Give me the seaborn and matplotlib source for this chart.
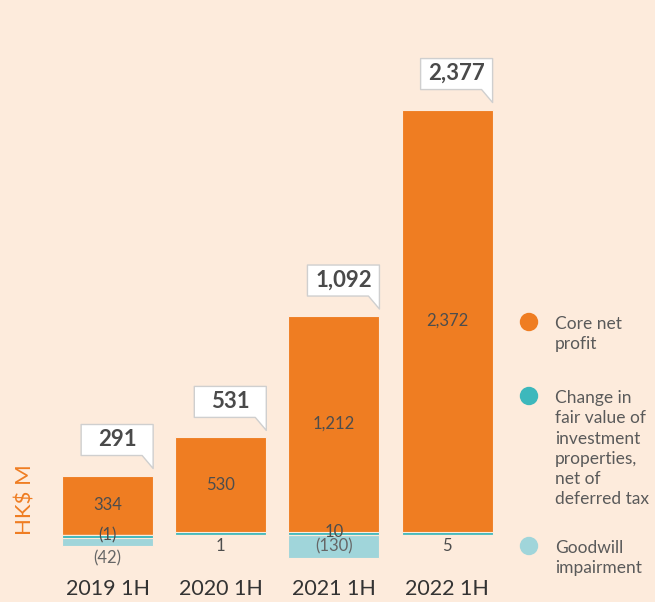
import matplotlib.pyplot as plt
import matplotlib.patches as mpatches
from matplotlib.transforms import ScaledTranslation
import numpy as np
import pandas as pd
import seaborn as sns

periods = ['2019 1H', '2020 1H', '2021 1H', '2022 1H']
core_profit = [334, 530, 1212, 2372]
fair_value = [-1, 1, 10, 5]
goodwill = [-42, 0, -130, 0]
totals = [291, 531, 1092, 2377]

legend_labels = ['Core net\nprofit',
                 'Change in\nfair value of\ninvestment\nproperties,\nnet of\ndeferred tax',
                 'Goodwill\nimpairment']

BG = '#fdebdc'
ORANGE = '#ef7d22'
TEAL = '#3db8bc'
LTEAL = '#a0d5da'
MIN_SEG = 18  # thin segments get a visible minimum height

sns.set_style('white')
plt.rcParams['font.family'] = ['Lato', 'DejaVu Sans']

fig = plt.figure(figsize=(6.55, 6.02), dpi=100, facecolor=BG)
ax = fig.add_axes([0.0779, 0.0404, 0.691, 0.9284])
ax.set_facecolor(BG)

fv_disp = np.sign(fair_value) * np.maximum(np.abs(fair_value), MIN_SEG)
pos_fv = np.where(fv_disp > 0, fv_disp, 0)
neg_fv = np.where(fv_disp < 0, fv_disp, 0)
gw = np.array(goodwill)

df = pd.DataFrame({'period': periods,
                   'top': pos_fv + np.array(core_profit),
                   'pos_fv': pos_fv,
                   'low': neg_fv + gw,
                   'neg_fv': neg_fv})

W = 0.805
bar_kw = dict(x='period', order=periods, width=W, saturation=1, errorbar=None,
              edgecolor=BG, linewidth=0.8, ax=ax)
sns.barplot(data=df, y='top', color=ORANGE, **bar_kw)
sns.barplot(data=df, y='pos_fv', color=TEAL, **bar_kw)
sns.barplot(data=df, y='low', color=LTEAL, **bar_kw)
sns.barplot(data=df, y='neg_fv', color=TEAL, **bar_kw)

ax.set_ylim(-240, 2900)
ax.set_xlim(-0.5, 3.5)
for s in ax.spines.values():
    s.set_visible(False)
ax.set_yticks([])
ax.set_xlabel('')
ax.set_ylabel('')
ax.tick_params(axis='x', length=0, pad=1, labelsize=15.5, labelcolor='#333333')

LBL = 12
for i in range(len(periods)):
    top = df['top'][i]
    # value inside the orange bar
    ax.text(i, pos_fv[i] + core_profit[i] / 2, f'{core_profit[i]:,}', ha='center', va='center',
            fontsize=LBL, color='#4d4d4d')
    # fair value change label
    fv = fair_value[i]
    fv_txt = f'({abs(fv):,})' if fv < 0 else f'{fv:,}'
    if gw[i] != 0:
        ax.annotate(fv_txt, (i, fv_disp[i] / 2), xytext=(0, 1), textcoords='offset points',
                    ha='center', va='center', fontsize=LBL, color='#4d4d4d')
    else:
        ax.annotate(fv_txt, (i, 0), xytext=(0, -8), textcoords='offset points',
                    ha='center', va='center', fontsize=LBL, color='#4d4d4d')
    # goodwill label
    if gw[i] != 0:
        seg_mid = neg_fv[i] + gw[i] / 2
        if abs(gw[i]) > 80:
            ax.text(i, seg_mid, f'({abs(gw[i]):,})', ha='center', va='center',
                    fontsize=LBL, color='#666666')
        else:
            ax.annotate(f'({abs(gw[i]):,})', (i, neg_fv[i] + gw[i]), xytext=(0, -9),
                        textcoords='offset points', ha='center', va='center',
                        fontsize=LBL, color='#666666')
    # callout box with total
    xr = i + W / 2
    tr = fig.dpi_scale_trans + ScaledTranslation(xr, top, ax.transData)
    verts = np.array([(-72, 20), (-11, 20), (0, 7), (0, 51), (-72, 51)]) / 100
    ax.add_patch(mpatches.Polygon(verts, closed=True, transform=tr, facecolor='white',
                                  edgecolor='#cfcfcf', lw=1.0, joinstyle='round',
                                  clip_on=False, zorder=5))
    ax.annotate(f'{totals[i]:,}', (xr, top), xytext=(-36 * 0.72, 36 * 0.72),
                textcoords='offset points', ha='center', va='center', fontsize=16,
                fontweight='bold', color='#4a4a4a', zorder=6)

# y unit label
fig.text(26 / 655, 1 - 500 / 602, 'HK$ M', rotation=90, ha='center', va='center',
         fontsize=16, color=ORANGE)

# legend
for lab, col, yp in zip(legend_labels, [ORANGE, TEAL, LTEAL], [322, 396, 546]):
    fig.add_artist(mpatches.Circle((529 / 100, (602 - yp) / 100), 0.085,
                                   transform=fig.dpi_scale_trans, color=col))
    fig.text(555 / 655, 1 - (yp - 6) / 602, lab, ha='left', va='top', fontsize=12.5,
             color='#5a5a5a', linespacing=1.33)

fig.savefig('out.png', dpi=100, facecolor=BG)
